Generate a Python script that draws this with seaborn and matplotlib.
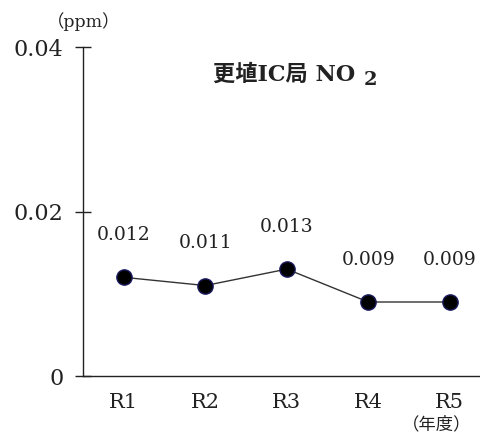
import matplotlib
matplotlib.use('Agg')
import matplotlib.pyplot as plt
import seaborn as sns

years = ['R1', 'R2', 'R3', 'R4', 'R5']
no2 = [0.012, 0.011, 0.013, 0.009, 0.009]
value_labels = ['0.012', '0.011', '0.013', '0.009', '0.009']
yticks = [0, 0.02, 0.04]
ytick_labels = ['0', '0.02', '0.04']

sns.set_style('white')
fonts = ['DejaVu Serif', 'Noto Sans CJK JP']
plt.rcParams['font.family'] = fonts

fig = plt.figure(figsize=(4.8, 4.34), dpi=100)
ax = fig.add_axes([0.173, 0.1336, 0.827, 0.758])

sns.lineplot(x=years, y=no2, ax=ax, color='#333333', linewidth=1,
             marker='o', markersize=11, markerfacecolor='black',
             markeredgecolor='#1a1a5e', markeredgewidth=1)

for i, (v, lab) in enumerate(zip(no2, value_labels)):
    ax.annotate(lab, (i, v), xytext=(0, 24), textcoords='offset points',
                ha='center', va='bottom', fontsize=13.5, color='#222222')

ax.set_xlim(-0.5, 4.37)
ax.set_ylim(0, 0.04)
ax.set_yticks(yticks)
ax.set_yticklabels(ytick_labels)

for s in ['top', 'right']:
    ax.spines[s].set_visible(False)
for s in ['left', 'bottom']:
    ax.spines[s].set_color('#222222')
    ax.spines[s].set_linewidth(1)

ax.tick_params(axis='y', left=True, direction='inout', length=12, width=1,
               color='#222222', labelsize=16, pad=8, labelcolor='#222222')
ax.tick_params(axis='x', length=0, labelsize=15, pad=12, labelcolor='#222222')

# title with a lowered subscript 2
t = fig.text(0.444, 0.827, '更埴IC局 NO', ha='left', va='center',
             fontsize=16, fontweight='semibold', color='#222222')
fig.canvas.draw()
ax.annotate('2', xy=(1, 0), xycoords=t, xytext=(6, -2), textcoords='offset points',
            ha='left', va='bottom', fontsize=14, fontweight='semibold',
            color='#222222', annotation_clip=False)

fig.text(0.175, 0.95, '（ppm）', ha='center', va='center', fontsize=12.5,
         color='#222222')
fig.text(0.91, 0.022, '（年度）', ha='center', va='center', fontsize=12.5,
         color='#222222')

plt.savefig('out.png', dpi=100)
